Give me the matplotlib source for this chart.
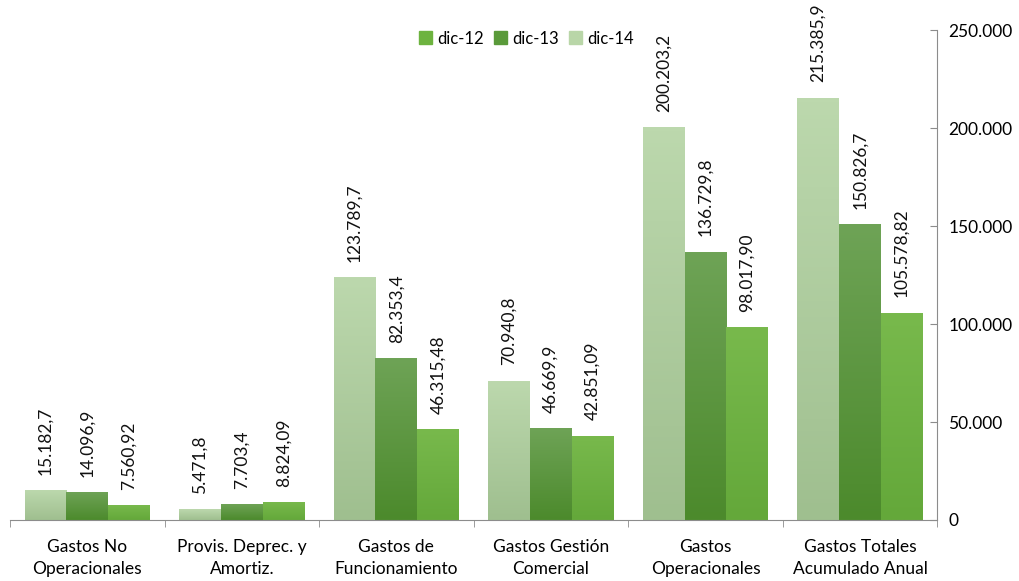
"""Gastos por categoria: dic-12 / dic-13 / dic-14, barras agrupadas."""

import numpy as np
import matplotlib
matplotlib.use("Agg")
import matplotlib.pyplot as plt
from matplotlib.colors import LinearSegmentedColormap
from matplotlib.patches import Patch

plt.rcParams["font.family"] = ["Lato", "DejaVu Sans"]

categories = [
    "Gastos No\nOperacionales",
    "Provis. Deprec. y\nAmortiz.",
    "Gastos de\nFuncionamiento",
    "Gastos Gestión\nComercial",
    "Gastos\nOperacionales",
    "Gastos Totales\nAcumulado Anual",
]
dic14 = [15182.7, 5471.8, 123789.7, 70940.8, 200203.2, 215385.9]
dic13 = [14096.9, 7703.4, 82353.4, 46669.9, 136729.8, 150826.7]
dic12 = [7560.92, 8824.09, 46315.48, 42851.09, 98017.90, 105578.82]
labels14 = ["15.182,7", "5.471,8", "123.789,7", "70.940,8", "200.203,2", "215.385,9"]
labels13 = ["14.096,9", "7.703,4", "82.353,4", "46.669,9", "136.729,8", "150.826,7"]
labels12 = ["7.560,92", "8.824,09", "46.315,48", "42.851,09", "98.017,90", "105.578,82"]
yticks = [0, 50000, 100000, 150000, 200000, 250000]
ytick_labels = ["0", "50.000", "100.000", "150.000", "200.000", "250.000"]

# (top colour, bottom colour, legend colour)
styles = {
    "dic-14": ("#bcd8ad", "#9fbf8f", "#b9d6a8"),
    "dic-13": ("#6ea356", "#4c8a2c", "#5a9a3a"),
    "dic-12": ("#78b94c", "#64a83a", "#6db33f"),
}

fig = plt.figure(figsize=(10.19, 5.81), dpi=100)
ax = fig.add_axes([0.0098, 0.105, 0.910, 0.843])

x = np.arange(len(categories))
width = 0.27
grad = np.linspace(0, 1, 100).reshape(-1, 1)

series = [("dic-14", dic14, labels14, -width),
          ("dic-13", dic13, labels13, 0.0),
          ("dic-12", dic12, labels12, width)]

for name, vals, labs, off in series:
    top, bottom, _ = styles[name]
    cmap = LinearSegmentedColormap.from_list(name, [top, bottom])
    bars = ax.bar(x + off, vals, width, color="none", edgecolor="none", zorder=2)
    for b, lab in zip(bars, labs):
        x0, h = b.get_x(), b.get_height()
        ax.imshow(grad, cmap=cmap, aspect="auto", origin="upper",
                  extent=(x0, x0 + b.get_width(), 0, h), zorder=2)
        ax.text(x0 + b.get_width() / 2, h + 8000, lab, rotation=90,
                ha="center", va="bottom", fontsize=12.5, color="#111111")

ax.set_xlim(-0.5, len(categories) - 0.5)
ax.set_ylim(0, 250000)

ax.spines["top"].set_visible(False)
ax.spines["left"].set_visible(False)
ax.spines["right"].set_color("#8c8c8c")
ax.spines["bottom"].set_color("#8c8c8c")

ax.yaxis.tick_right()
ax.set_yticks(yticks)
ax.set_yticklabels(ytick_labels, fontsize=12.5)
ax.tick_params(axis="y", direction="in", length=5, color="#8c8c8c", pad=8)

ax.set_xticks(x)
ax.set_xticklabels(categories, fontsize=12.5, linespacing=1.45)
ax.tick_params(axis="x", length=0, pad=14)
ax.set_xticks(np.arange(len(categories) + 1) - 0.5, minor=True)
ax.tick_params(axis="x", which="minor", direction="out", length=5, color="#8c8c8c")

handles = [Patch(color=styles[n][2]) for n in ["dic-12", "dic-13", "dic-14"]]
ax.legend(handles, ["dic-12", "dic-13", "dic-14"], loc="upper center",
          bbox_to_anchor=(0.557, 1.03), ncol=3, frameon=False, fontsize=12,
          handlelength=0.8, handleheight=0.8, handletextpad=0.3, columnspacing=0.6)

fig.savefig("out.png", dpi=100)
